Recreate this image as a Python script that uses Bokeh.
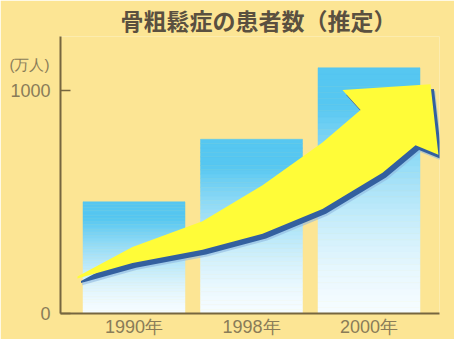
from bokeh.plotting import figure
from bokeh.models import LinearAxis, FixedTicker, Range1d
from bokeh.embed import file_html
from bokeh.resources import INLINE
import numpy as np

# ---- data ----
years = ["1990年", "1998年", "2000年"]
patients = [500, 780, 1100]          # 万人 (estimated)
y_ticks = [0, 1000]
y_unit = "(万人)"
y_unit_pos = 1115
title_text = "骨粗鬆症の患者数（推定）"

# decorative trend arrow outline (x in category units, y in 万人)
arrow_lower_x = [-0.481, -0.013, 0.583, 1.094, 1.604, 2.115, 2.396]
arrow_lower_y = [157, 226, 285, 357, 468, 630, 753]
arrow_head_x = [2.591, 2.523, 1.774, 1.928]
arrow_head_y = [711, 1026, 1000, 911]
arrow_upper_x = [1.604, 1.094, 0.583, -0.013, -0.481]
arrow_upper_y = [766, 574, 413, 298, 166]

CJK = "Noto Sans CJK JP"
LAT = "Liberation Sans"
BG = "#FCE594"
AXIS = "#76663f"
LABEL = "#8a7c58"

p = figure(width=454, height=339, output_backend="svg", toolbar_location=None,
           x_range=Range1d(-0.6255, 2.6), y_range=Range1d(0, 1240),
           min_border_left=60, min_border_right=15, min_border_top=32, min_border_bottom=24)
p.background_fill_color = BG
p.border_fill_color = BG
p.outline_line_color = None
p.xgrid.visible = False
p.ygrid.visible = False

p.title.text = title_text
p.title.text_font = CJK
p.title.text_font_size = "23px"
p.title.text_font_style = "bold"
p.title.text_color = "#5a5040"
p.title.align = "left"
p.title.offset = 60
p.title.standoff = 0

# gradient bars built from stacked slices of each value
n = 40
top_c = np.array([0x56, 0xC7, 0xF1])
bot_c = np.array([0xF5, 0xFC, 0xFF])
xs = list(range(len(years)))
bw = 0.868
L, R, B, T, C = [], [], [], [], []
for i, v in enumerate(patients):
    for k in range(n):
        f = (k + 0.5) / n
        g = min(1.0, f / 0.85) ** 1.5
        c = bot_c + (top_c - bot_c) * g
        L.append(xs[i] - bw / 2); R.append(xs[i] + bw / 2)
        B.append(v * k / n); T.append(v * (k + 1) / n)
        C.append("#%02x%02x%02x" % tuple(int(round(t)) for t in c))
p.quad(left=L, right=R, bottom=B, top=T, fill_color=C, line_color=C, line_width=0.5)

# arrow with drop shadow
ax = arrow_lower_x + arrow_head_x + arrow_upper_x
ay = arrow_lower_y + arrow_head_y + arrow_upper_y
p.patch([x + 0.04 for x in ax], [y - 30 for y in ay], fill_color="#8fb8e0", line_color=None, fill_alpha=0.6)
p.patch([x + 0.03 for x in ax], [y - 21 for y in ay], fill_color="#33609f", line_color=None)
p.patch(ax, ay, fill_color="#FFFC38", line_color=None)

# x axis with year labels
p.xaxis.ticker = FixedTicker(ticks=xs)
p.xaxis.major_label_overrides = {i: y for i, y in zip(xs, years)}
p.xaxis.axis_line_color = AXIS
p.xaxis.axis_line_width = 2
p.xaxis.major_tick_out = 0
p.xaxis.major_tick_in = 0
p.xaxis.minor_tick_out = 0
p.xaxis.minor_tick_in = 0
p.xaxis.major_label_standoff = 3
p.xaxis.major_label_text_font = LAT
p.xaxis.major_label_text_font_size = "18px"
p.xaxis.major_label_text_color = LABEL

# y axis
p.yaxis.ticker = FixedTicker(ticks=y_ticks)
p.yaxis.axis_line_color = AXIS
p.yaxis.axis_line_width = 2
p.yaxis.major_tick_line_color = AXIS
p.yaxis.major_tick_line_width = 1.5
p.yaxis.major_tick_in = 10
p.yaxis.major_tick_out = 0
p.yaxis.minor_tick_in = 0
p.yaxis.minor_tick_out = 0
p.yaxis.major_label_standoff = 10
p.yaxis.major_label_text_font = LAT
p.yaxis.major_label_text_font_size = "18px"
p.yaxis.major_label_text_color = LABEL

# unit label as an extra (line-less) axis on the left
ua = LinearAxis(ticker=FixedTicker(ticks=[y_unit_pos]),
                major_label_overrides={y_unit_pos: y_unit},
                axis_line_color=None, major_tick_in=0, major_tick_out=0,
                minor_tick_in=0, minor_tick_out=0, major_label_standoff=-42,
                major_label_text_font=LAT, major_label_text_font_size="15px",
                major_label_text_color=LABEL)
p.add_layout(ua, "left")

open("out.html", "w").write(file_html(p, INLINE))
